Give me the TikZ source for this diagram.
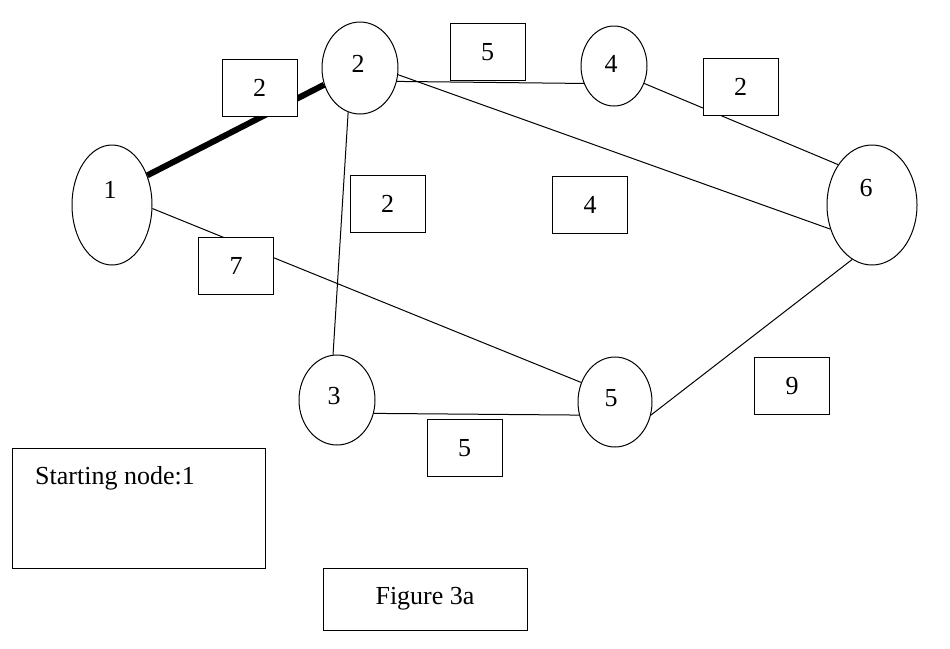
\documentclass[tikz,border=0pt]{standalone}
\usepackage{fontspec}
\setmainfont{Liberation Serif}
\usetikzlibrary{shapes.geometric}
\begin{document}
\begin{tikzpicture}[x=1pt,y=-1pt,
  vtx/.style={draw,ellipse,line width=1pt,fill=white,inner sep=0pt},
  wbox/.style={draw,line width=1pt,fill=white,minimum width=75pt,minimum height=57pt,font=\fontsize{26}{28}\selectfont},
  edge/.style={line width=1pt}]
\useasboundingbox (0,0) rectangle (950,648);
\node[vtx,minimum width=80pt,minimum height=120pt,font=\fontsize{26}{28}\selectfont] (n1) at (112,205) {};
\node at (110,190) {\fontsize{26}{28}\selectfont 1};
\node[vtx,minimum width=76pt,minimum height=92pt] (n2) at (360,68) {};
\node at (358,64) {\fontsize{26}{28}\selectfont 2};
\node[vtx,minimum width=66pt,minimum height=80pt] (n4) at (614,66) {};
\node at (611,64) {\fontsize{26}{28}\selectfont 4};
\node[vtx,minimum width=90pt,minimum height=120pt] (n6) at (872,205) {};
\node at (866,188) {\fontsize{26}{28}\selectfont 6};
\node[vtx,minimum width=76pt,minimum height=90pt] (n3) at (337,400) {};
\node at (334,396) {\fontsize{26}{28}\selectfont 3};
\node[vtx,minimum width=74pt,minimum height=90pt] (n5) at (615,402) {};
\node at (611,398) {\fontsize{26}{28}\selectfont 5};
\draw[line width=6pt] (n1.40) -- (n2.205);
\draw[edge] (n2.-20) -- (n4.-150);
\draw[edge] (n4.-30) -- (n6.130);
\draw[edge] (n2.-10) -- (n6.-150);
\draw[edge] (n2.-105) -- (n3.95);
\draw[edge] (n1.-5) -- (n5.150);
\draw[edge] (n3.-20) -- (n5.-160);
\draw[edge] (n5.-20) -- (n6.-110);
\node[wbox] (w12) at (259.5,87.5) {2};
\node[wbox] (w24) at (487.5,52) {5};
\node[wbox] (w46) at (740.5,87) {2};
\node[wbox] (w23) at (387.5,203.5) {2};
\node[wbox] (w26) at (590,205) {4};
\node[wbox] (w15) at (236,265.5) {7};
\node[wbox] (w56) at (792,386) {9};
\node[wbox] (w35) at (464.5,448) {5};
\node[draw,line width=1pt,minimum width=253pt,minimum height=120pt] (start) at (138.5,508) {};
\node[anchor=north west,inner sep=0pt,font=\fontsize{26}{28}\selectfont] (st) at (35,466) {Starting node:1};
\node[draw,line width=1pt,minimum width=204pt,minimum height=62pt,font=\fontsize{26}{28}\selectfont] (fig) at (425,599) {Figure 3a};
\end{tikzpicture}
\end{document}
